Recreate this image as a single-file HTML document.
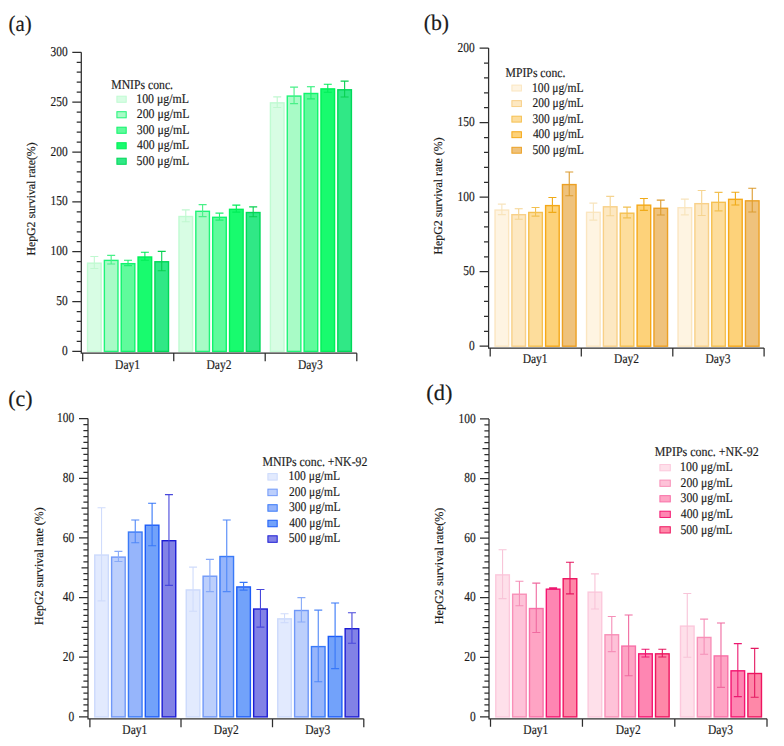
<!DOCTYPE html>
<html><head><meta charset="utf-8"><style>
html,body{margin:0;padding:0;background:#fff;}
svg{display:block;}
.t{font-family:"Liberation Serif", serif;fill:#1c1c1c;font-kerning:none;text-rendering:geometricPrecision;stroke:#1c1c1c;stroke-width:0.18px;}
</style></head><body>
<svg width="784" height="746" viewBox="0 0 784 746">
<rect width="784" height="746" fill="#fff"/>
<rect x="87.52" y="263.17" width="13.6" height="88.23" fill="#d8fde4" stroke="#c0fbd2" stroke-width="1.4"/>
<rect x="104.37" y="260.38" width="13.6" height="91.02" fill="#a8fbc6" stroke="#20f478" stroke-width="1.4"/>
<rect x="121.22" y="263.67" width="13.6" height="87.73" fill="#60fb9c" stroke="#10f46c" stroke-width="1.4"/>
<rect x="138.07" y="256.99" width="13.6" height="94.41" fill="#18fb6e" stroke="#00f058" stroke-width="1.4"/>
<rect x="154.92" y="261.77" width="13.6" height="89.63" fill="#30e886" stroke="#00d858" stroke-width="1.4"/>
<rect x="178.97" y="216.51" width="13.6" height="134.89" fill="#d8fde4" stroke="#c0fbd2" stroke-width="1.4"/>
<rect x="195.82" y="211.32" width="13.6" height="140.08" fill="#a8fbc6" stroke="#20f478" stroke-width="1.4"/>
<rect x="212.68" y="217.31" width="13.6" height="134.09" fill="#60fb9c" stroke="#10f46c" stroke-width="1.4"/>
<rect x="229.53" y="209.33" width="13.6" height="142.07" fill="#18fb6e" stroke="#00f058" stroke-width="1.4"/>
<rect x="246.38" y="212.52" width="13.6" height="138.88" fill="#30e886" stroke="#00d858" stroke-width="1.4"/>
<rect x="270.42" y="102.85" width="13.6" height="248.55" fill="#d8fde4" stroke="#c0fbd2" stroke-width="1.4"/>
<rect x="287.27" y="96.07" width="13.6" height="255.33" fill="#a8fbc6" stroke="#20f478" stroke-width="1.4"/>
<rect x="304.12" y="93.48" width="13.6" height="257.92" fill="#60fb9c" stroke="#10f46c" stroke-width="1.4"/>
<rect x="320.97" y="88.89" width="13.6" height="262.51" fill="#18fb6e" stroke="#00f058" stroke-width="1.4"/>
<rect x="337.82" y="89.79" width="13.6" height="261.61" fill="#30e886" stroke="#00d858" stroke-width="1.4"/>
<path d="M94.32 256.49V268.45M90.32 256.49H98.32M90.32 268.45H98.32" stroke="#c0f8d0" stroke-width="1.1" fill="none"/>
<path d="M111.17 255.39V263.96M107.17 255.39H115.17M107.17 263.96H115.17" stroke="#48f088" stroke-width="1.1" fill="none"/>
<path d="M128.02 260.27V265.66M124.02 260.27H132.02M124.02 265.66H132.02" stroke="#20f070" stroke-width="1.1" fill="none"/>
<path d="M144.88 252.3V260.27M140.88 252.3H148.88M140.88 260.27H148.88" stroke="#00ee58" stroke-width="1.1" fill="none"/>
<path d="M161.72 251.4V270.74M157.72 251.4H165.72M157.72 270.74H165.72" stroke="#08d050" stroke-width="1.1" fill="none"/>
<path d="M185.78 209.83V221.79M181.78 209.83H189.78M181.78 221.79H189.78" stroke="#c0f8d0" stroke-width="1.1" fill="none"/>
<path d="M202.62 204.64V216.61M198.62 204.64H206.62M198.62 216.61H206.62" stroke="#48f088" stroke-width="1.1" fill="none"/>
<path d="M219.48 213.12V220.1M215.48 213.12H223.48M215.48 220.1H223.48" stroke="#20f070" stroke-width="1.1" fill="none"/>
<path d="M236.33 205.14V212.12M232.33 205.14H240.33M232.33 212.12H240.33" stroke="#00ee58" stroke-width="1.1" fill="none"/>
<path d="M253.18 206.83V216.81M249.18 206.83H257.18M249.18 216.81H257.18" stroke="#08d050" stroke-width="1.1" fill="none"/>
<path d="M277.22 96.87V107.43M273.22 96.87H281.22M273.22 107.43H281.22" stroke="#c0f8d0" stroke-width="1.1" fill="none"/>
<path d="M294.07 87.1V103.65M290.07 87.1H298.07M290.07 103.65H298.07" stroke="#48f088" stroke-width="1.1" fill="none"/>
<path d="M310.92 86.7V98.86M306.92 86.7H314.92M306.92 98.86H314.92" stroke="#20f070" stroke-width="1.1" fill="none"/>
<path d="M327.77 84.2V92.18M323.77 84.2H331.77M323.77 92.18H331.77" stroke="#00ee58" stroke-width="1.1" fill="none"/>
<path d="M344.62 81.11V97.07M340.62 81.11H348.62M340.62 97.07H348.62" stroke="#08d050" stroke-width="1.1" fill="none"/>
<path d="M81.3 52.3V353.2H356.8M72.3 351.4H81.3M76.7 341.43H81.3M76.7 331.46H81.3M76.7 321.49H81.3M76.7 311.52H81.3M72.3 301.55H81.3M76.7 291.58H81.3M76.7 281.61H81.3M76.7 271.64H81.3M76.7 261.67H81.3M72.3 251.7H81.3M76.7 241.73H81.3M76.7 231.76H81.3M76.7 221.79H81.3M76.7 211.82H81.3M72.3 201.85H81.3M76.7 191.88H81.3M76.7 181.91H81.3M76.7 171.94H81.3M76.7 161.97H81.3M72.3 152H81.3M76.7 142.03H81.3M76.7 132.06H81.3M76.7 122.09H81.3M76.7 112.12H81.3M72.3 102.15H81.3M76.7 92.18H81.3M76.7 82.21H81.3M76.7 72.24H81.3M76.7 62.27H81.3M72.3 52.3H81.3M82.7 353.2V361.2M173.75 353.2V361.2M265.2 353.2V361.2M356.8 353.2V361.2" stroke="#2e2e2e" stroke-width="1.25" fill="none"/>
<text transform="translate(61.92 355) scale(0.84 1)" style="font-size:13.6px" class="t">0</text>
<text transform="translate(56.21 305.15) scale(0.84 1)" style="font-size:13.6px" class="t">50</text>
<text transform="translate(50.5 255.3) scale(0.84 1)" style="font-size:13.6px" class="t">100</text>
<text transform="translate(50.5 205.45) scale(0.84 1)" style="font-size:13.6px" class="t">150</text>
<text transform="translate(50.5 155.6) scale(0.84 1)" style="font-size:13.6px" class="t">200</text>
<text transform="translate(50.5 105.75) scale(0.84 1)" style="font-size:13.6px" class="t">250</text>
<text transform="translate(50.5 55.9) scale(0.84 1)" style="font-size:13.6px" class="t">300</text>
<text transform="translate(115.12 368.5) scale(0.86 1)" style="font-size:13.4px" class="t">Day1</text>
<text transform="translate(206.55 368.5) scale(0.86 1)" style="font-size:13.4px" class="t">Day2</text>
<text transform="translate(297.9 368.5) scale(0.86 1)" style="font-size:13.4px" class="t">Day3</text>
<text transform="translate(34.9 255.54) rotate(-90) scale(0.99 1)" style="font-size:11.9px" class="t">HepG2 survival rate(%)</text>
<text transform="translate(8.58 31.2) scale(0.94 1)" style="font-size:22.2px" class="t">(a)</text>
<text transform="translate(111.26 88.6) scale(0.88 1)" style="font-size:13.3px" class="t">MNIPs conc.</text>
<rect x="116.9" y="96.2" width="9.3" height="6.1" fill="#d8fde4" stroke="#c0fbd2"/>
<text transform="translate(136.25 102.6) scale(0.89 1)" style="font-size:13.3px" class="t">100 μg/mL</text>
<rect x="116.9" y="111.7" width="9.3" height="6.1" fill="#a8fbc6" stroke="#20f478"/>
<text transform="translate(136.78 118.1) scale(0.89 1)" style="font-size:13.3px" class="t">200 μg/mL</text>
<rect x="116.9" y="127.2" width="9.3" height="6.1" fill="#60fb9c" stroke="#10f46c"/>
<text transform="translate(136.74 133.6) scale(0.89 1)" style="font-size:13.3px" class="t">300 μg/mL</text>
<rect x="116.9" y="142.7" width="9.3" height="6.1" fill="#18fb6e" stroke="#00f058"/>
<text transform="translate(137.07 149.1) scale(0.88 1)" style="font-size:13.3px" class="t">400 μg/mL</text>
<rect x="116.9" y="158.2" width="9.3" height="6.1" fill="#30e886" stroke="#00d858"/>
<text transform="translate(136.61 164.6) scale(0.89 1)" style="font-size:13.3px" class="t">500 μg/mL</text>
<rect x="495.05" y="210.07" width="13.6" height="136.13" fill="#fef4e2" stroke="#fbe6c0" stroke-width="1.4"/>
<rect x="511.9" y="214.69" width="13.6" height="131.51" fill="#fde8c2" stroke="#f8d088" stroke-width="1.4"/>
<rect x="528.75" y="212.46" width="13.6" height="133.74" fill="#fddd9c" stroke="#f5c050" stroke-width="1.4"/>
<rect x="545.6" y="205.6" width="13.6" height="140.6" fill="#fdd27a" stroke="#f5a818" stroke-width="1.4"/>
<rect x="562.45" y="184.58" width="13.6" height="161.62" fill="#efc27c" stroke="#eca024" stroke-width="1.4"/>
<rect x="586.55" y="212.31" width="13.6" height="133.89" fill="#fef4e2" stroke="#fbe6c0" stroke-width="1.4"/>
<rect x="603.4" y="206.79" width="13.6" height="139.41" fill="#fde8c2" stroke="#f8d088" stroke-width="1.4"/>
<rect x="620.25" y="213.2" width="13.6" height="133" fill="#fddd9c" stroke="#f5c050" stroke-width="1.4"/>
<rect x="637.1" y="205.15" width="13.6" height="141.05" fill="#fdd27a" stroke="#f5a818" stroke-width="1.4"/>
<rect x="653.95" y="208.28" width="13.6" height="137.92" fill="#efc27c" stroke="#eca024" stroke-width="1.4"/>
<rect x="678.05" y="207.69" width="13.6" height="138.51" fill="#fef4e2" stroke="#fbe6c0" stroke-width="1.4"/>
<rect x="694.9" y="203.66" width="13.6" height="142.54" fill="#fde8c2" stroke="#f8d088" stroke-width="1.4"/>
<rect x="711.75" y="202.32" width="13.6" height="143.88" fill="#fddd9c" stroke="#f5c050" stroke-width="1.4"/>
<rect x="728.6" y="199.34" width="13.6" height="146.86" fill="#fdd27a" stroke="#f5a818" stroke-width="1.4"/>
<rect x="745.45" y="200.83" width="13.6" height="145.37" fill="#efc27c" stroke="#eca024" stroke-width="1.4"/>
<path d="M501.85 204.16V214.59M497.85 204.16H505.85M497.85 214.59H505.85" stroke="#f8e4bc" stroke-width="1.1" fill="none"/>
<path d="M518.7 208.78V219.21M514.7 208.78H522.7M514.7 219.21H522.7" stroke="#f5d490" stroke-width="1.1" fill="none"/>
<path d="M535.55 207.43V216.08M531.55 207.43H539.55M531.55 216.08H539.55" stroke="#f2c050" stroke-width="1.1" fill="none"/>
<path d="M552.4 197.45V212.35M548.4 197.45H556.4M548.4 212.35H556.4" stroke="#f0aa18" stroke-width="1.1" fill="none"/>
<path d="M569.25 171.96V195.81M565.25 171.96H573.25M565.25 195.81H573.25" stroke="#dc9c30" stroke-width="1.1" fill="none"/>
<path d="M593.35 203.11V220.1M589.35 203.11H597.35M589.35 220.1H597.35" stroke="#f8e4bc" stroke-width="1.1" fill="none"/>
<path d="M610.2 196.4V215.78M606.2 196.4H614.2M606.2 215.78H614.2" stroke="#f5d490" stroke-width="1.1" fill="none"/>
<path d="M627.05 207.14V217.87M623.05 207.14H631.05M623.05 217.87H631.05" stroke="#f2c050" stroke-width="1.1" fill="none"/>
<path d="M643.9 198.49V210.42M639.9 198.49H647.9M639.9 210.42H647.9" stroke="#f0aa18" stroke-width="1.1" fill="none"/>
<path d="M660.75 200.13V215.04M656.75 200.13H664.75M656.75 215.04H664.75" stroke="#dc9c30" stroke-width="1.1" fill="none"/>
<path d="M684.85 199.09V214.89M680.85 199.09H688.85M680.85 214.89H688.85" stroke="#f8e4bc" stroke-width="1.1" fill="none"/>
<path d="M701.7 190.44V215.48M697.7 190.44H705.7M697.7 215.48H705.7" stroke="#f5d490" stroke-width="1.1" fill="none"/>
<path d="M718.55 192.38V210.86M714.55 192.38H722.55M714.55 210.86H722.55" stroke="#f2c050" stroke-width="1.1" fill="none"/>
<path d="M735.4 192.23V205.05M731.4 192.23H739.4M731.4 205.05H739.4" stroke="#f0aa18" stroke-width="1.1" fill="none"/>
<path d="M752.25 188.21V212.06M748.25 188.21H756.25M748.25 212.06H756.25" stroke="#dc9c30" stroke-width="1.1" fill="none"/>
<path d="M488.6 48.1V348.1H764.1M479.6 346.2H488.6M484 331.3H488.6M484 316.39H488.6M484 301.49H488.6M484 286.58H488.6M479.6 271.68H488.6M484 256.77H488.6M484 241.87H488.6M484 226.96H488.6M484 212.06H488.6M479.6 197.15H488.6M484 182.25H488.6M484 167.34H488.6M484 152.44H488.6M484 137.53H488.6M479.6 122.62H488.6M484 107.72H488.6M484 92.81H488.6M484 77.91H488.6M484 63H488.6M479.6 48.1H488.6M490.2 348.1V356.6M581.3 348.1V356.6M672.8 348.1V356.6M764.1 348.1V356.6" stroke="#2e2e2e" stroke-width="1.25" fill="none"/>
<text transform="translate(468.92 349.8) scale(0.84 1)" style="font-size:13.6px" class="t">0</text>
<text transform="translate(463.21 275.28) scale(0.84 1)" style="font-size:13.6px" class="t">50</text>
<text transform="translate(457.5 200.75) scale(0.84 1)" style="font-size:13.6px" class="t">100</text>
<text transform="translate(457.5 126.22) scale(0.84 1)" style="font-size:13.6px" class="t">150</text>
<text transform="translate(457.5 51.7) scale(0.84 1)" style="font-size:13.6px" class="t">200</text>
<text transform="translate(522.65 363.4) scale(0.86 1)" style="font-size:13.4px" class="t">Day1</text>
<text transform="translate(614.12 363.4) scale(0.86 1)" style="font-size:13.4px" class="t">Day2</text>
<text transform="translate(705.53 363.4) scale(0.86 1)" style="font-size:13.4px" class="t">Day3</text>
<text transform="translate(442.3 254.54) rotate(-90) scale(1 1)" style="font-size:11.9px" class="t">HepG2 survival rate (%)</text>
<text transform="translate(423.74 30) scale(0.98 1)" style="font-size:22.2px" class="t">(b)</text>
<text transform="translate(505.56 77.1) scale(0.88 1)" style="font-size:13.3px" class="t">MPIPs conc.</text>
<rect x="511.9" y="85.1" width="9.5" height="5.9" fill="#fef4e2" stroke="#fbe6c0"/>
<text transform="translate(532.08 91.5) scale(0.87 1)" style="font-size:13.3px" class="t">100 μg/mL</text>
<rect x="511.9" y="100.65" width="9.5" height="5.9" fill="#fde8c2" stroke="#f8d088"/>
<text transform="translate(532.6 107.05) scale(0.86 1)" style="font-size:13.3px" class="t">200 μg/mL</text>
<rect x="511.9" y="116.2" width="9.5" height="5.9" fill="#fddd9c" stroke="#f5c050"/>
<text transform="translate(532.55 122.6) scale(0.86 1)" style="font-size:13.3px" class="t">300 μg/mL</text>
<rect x="511.9" y="131.75" width="9.5" height="5.9" fill="#fdd27a" stroke="#f5a818"/>
<text transform="translate(532.88 138.15) scale(0.86 1)" style="font-size:13.3px" class="t">400 μg/mL</text>
<rect x="511.9" y="147.3" width="9.5" height="5.9" fill="#efc27c" stroke="#eca024"/>
<text transform="translate(532.43 153.7) scale(0.87 1)" style="font-size:13.3px" class="t">500 μg/mL</text>
<rect x="94.75" y="555.03" width="13.6" height="161.87" fill="#e2eafe" stroke="#ccdafc" stroke-width="1.4"/>
<rect x="111.6" y="557.11" width="13.6" height="159.79" fill="#bccffc" stroke="#7098f8" stroke-width="1.4"/>
<rect x="128.45" y="532.06" width="13.6" height="184.84" fill="#96b5fb" stroke="#3a7af8" stroke-width="1.4"/>
<rect x="145.3" y="525.2" width="13.6" height="191.7" fill="#72a2fa" stroke="#1c5cf8" stroke-width="1.4"/>
<rect x="162.15" y="540.71" width="13.6" height="176.19" fill="#8282e6" stroke="#1c1cd4" stroke-width="1.4"/>
<rect x="186.25" y="589.93" width="13.6" height="126.97" fill="#e2eafe" stroke="#ccdafc" stroke-width="1.4"/>
<rect x="203.1" y="576.21" width="13.6" height="140.69" fill="#bccffc" stroke="#7098f8" stroke-width="1.4"/>
<rect x="219.95" y="556.52" width="13.6" height="160.38" fill="#96b5fb" stroke="#3a7af8" stroke-width="1.4"/>
<rect x="236.8" y="586.94" width="13.6" height="129.96" fill="#72a2fa" stroke="#1c5cf8" stroke-width="1.4"/>
<rect x="253.65" y="609.02" width="13.6" height="107.88" fill="#8282e6" stroke="#1c1cd4" stroke-width="1.4"/>
<rect x="277.75" y="618.86" width="13.6" height="98.04" fill="#e2eafe" stroke="#ccdafc" stroke-width="1.4"/>
<rect x="294.6" y="610.51" width="13.6" height="106.39" fill="#bccffc" stroke="#7098f8" stroke-width="1.4"/>
<rect x="311.45" y="646.6" width="13.6" height="70.3" fill="#96b5fb" stroke="#3a7af8" stroke-width="1.4"/>
<rect x="328.3" y="636.46" width="13.6" height="80.44" fill="#72a2fa" stroke="#1c5cf8" stroke-width="1.4"/>
<rect x="345.15" y="628.71" width="13.6" height="88.19" fill="#8282e6" stroke="#1c1cd4" stroke-width="1.4"/>
<path d="M101.55 507.79V600.86M97.55 507.79H105.55M97.55 600.86H105.55" stroke="#d0dcfc" stroke-width="1.1" fill="none"/>
<path d="M118.4 551.34V561.49M114.4 551.34H122.4M114.4 561.49H122.4" stroke="#88aaf8" stroke-width="1.1" fill="none"/>
<path d="M135.25 520.02V542.69M131.25 520.02H139.25M131.25 542.69H139.25" stroke="#5088f8" stroke-width="1.1" fill="none"/>
<path d="M152.1 503.32V545.68M148.1 503.32H156.1M148.1 545.68H156.1" stroke="#3878f8" stroke-width="1.1" fill="none"/>
<path d="M168.95 494.67V585.35M164.95 494.67H172.95M164.95 585.35H172.95" stroke="#4848dc" stroke-width="1.1" fill="none"/>
<path d="M193.05 567.15V611.3M189.05 567.15H197.05M189.05 611.3H197.05" stroke="#d0dcfc" stroke-width="1.1" fill="none"/>
<path d="M209.9 559.4V591.61M205.9 559.4H213.9M205.9 591.61H213.9" stroke="#88aaf8" stroke-width="1.1" fill="none"/>
<path d="M226.75 520.02V591.61M222.75 520.02H230.75M222.75 591.61H230.75" stroke="#5088f8" stroke-width="1.1" fill="none"/>
<path d="M243.6 582.37V590.12M239.6 582.37H247.6M239.6 590.12H247.6" stroke="#3878f8" stroke-width="1.1" fill="none"/>
<path d="M260.45 589.53V627.11M256.45 589.53H264.45M256.45 627.11H264.45" stroke="#4848dc" stroke-width="1.1" fill="none"/>
<path d="M284.55 613.69V622.64M280.55 613.69H288.55M280.55 622.64H288.55" stroke="#d0dcfc" stroke-width="1.1" fill="none"/>
<path d="M301.4 597.58V622.04M297.4 597.58H305.4M297.4 622.04H305.4" stroke="#88aaf8" stroke-width="1.1" fill="none"/>
<path d="M318.25 610.11V681.7M314.25 610.11H322.25M314.25 681.7H322.25" stroke="#5088f8" stroke-width="1.1" fill="none"/>
<path d="M335.1 602.95V668.58M331.1 602.95H339.1M331.1 668.58H339.1" stroke="#3878f8" stroke-width="1.1" fill="none"/>
<path d="M351.95 612.79V643.22M347.95 612.79H355.95M347.95 643.22H355.95" stroke="#4848dc" stroke-width="1.1" fill="none"/>
<path d="M88 418.6V718.8H363.8M79 716.9H88M83.4 710.93H88M83.4 704.97H88M83.4 699H88M83.4 693.04H88M81.5 687.07H88M83.4 681.1H88M83.4 675.14H88M83.4 669.17H88M83.4 663.21H88M79 657.24H88M83.4 651.27H88M83.4 645.31H88M83.4 639.34H88M83.4 633.38H88M81.5 627.41H88M83.4 621.44H88M83.4 615.48H88M83.4 609.51H88M83.4 603.55H88M79 597.58H88M83.4 591.61H88M83.4 585.65H88M83.4 579.68H88M83.4 573.72H88M81.5 567.75H88M83.4 561.78H88M83.4 555.82H88M83.4 549.85H88M83.4 543.89H88M79 537.92H88M83.4 531.95H88M83.4 525.99H88M83.4 520.02H88M83.4 514.06H88M81.5 508.09H88M83.4 502.12H88M83.4 496.16H88M83.4 490.19H88M83.4 484.23H88M79 478.26H88M83.4 472.29H88M83.4 466.33H88M83.4 460.36H88M83.4 454.4H88M81.5 448.43H88M83.4 442.46H88M83.4 436.5H88M83.4 430.53H88M83.4 424.57H88M79 418.6H88M89.9 718.8V727.3M181 718.8V727.3M272.5 718.8V727.3M363.8 718.8V727.3" stroke="#2e2e2e" stroke-width="1.25" fill="none"/>
<text transform="translate(68.52 720.5) scale(0.84 1)" style="font-size:13.6px" class="t">0</text>
<text transform="translate(62.81 660.84) scale(0.84 1)" style="font-size:13.6px" class="t">20</text>
<text transform="translate(62.81 601.18) scale(0.84 1)" style="font-size:13.6px" class="t">40</text>
<text transform="translate(62.81 541.52) scale(0.84 1)" style="font-size:13.6px" class="t">60</text>
<text transform="translate(62.81 481.86) scale(0.84 1)" style="font-size:13.6px" class="t">80</text>
<text transform="translate(57.1 422.2) scale(0.84 1)" style="font-size:13.6px" class="t">100</text>
<text transform="translate(122.35 734.1) scale(0.86 1)" style="font-size:13.4px" class="t">Day1</text>
<text transform="translate(213.82 734.1) scale(0.86 1)" style="font-size:13.4px" class="t">Day2</text>
<text transform="translate(305.23 734.1) scale(0.86 1)" style="font-size:13.4px" class="t">Day3</text>
<text transform="translate(42.6 624.94) rotate(-90) scale(0.97 1)" style="font-size:12.3px" class="t">HepG2 survival rate (%)</text>
<text transform="translate(8.23 406.2) scale(0.99 1)" style="font-size:22.2px" class="t">(c)</text>
<text transform="translate(262.46 466) scale(0.89 1)" style="font-size:13.3px" class="t">MNIPs conc. +NK-92</text>
<rect x="267.9" y="473.6" width="9.3" height="6.5" fill="#e2eafe" stroke="#ccdafc"/>
<text transform="translate(288.48 480.2) scale(0.87 1)" style="font-size:13.3px" class="t">100 μg/mL</text>
<rect x="267.9" y="489.15" width="9.3" height="6.5" fill="#bccffc" stroke="#7098f8"/>
<text transform="translate(288.99 495.75) scale(0.86 1)" style="font-size:13.3px" class="t">200 μg/mL</text>
<rect x="267.9" y="504.7" width="9.3" height="6.5" fill="#96b5fb" stroke="#3a7af8"/>
<text transform="translate(288.95 511.3) scale(0.87 1)" style="font-size:13.3px" class="t">300 μg/mL</text>
<rect x="267.9" y="520.25" width="9.3" height="6.5" fill="#72a2fa" stroke="#1c5cf8"/>
<text transform="translate(289.28 526.85) scale(0.86 1)" style="font-size:13.3px" class="t">400 μg/mL</text>
<rect x="267.9" y="535.8" width="9.3" height="6.5" fill="#8282e6" stroke="#1c1cd4"/>
<text transform="translate(288.83 542.4) scale(0.87 1)" style="font-size:13.3px" class="t">500 μg/mL</text>
<rect x="495.78" y="574.86" width="13.6" height="142.04" fill="#fee0ea" stroke="#fcc8dc" stroke-width="1.4"/>
<rect x="512.63" y="594.23" width="13.6" height="122.67" fill="#fec2d8" stroke="#f890b8" stroke-width="1.4"/>
<rect x="529.48" y="608.53" width="13.6" height="108.37" fill="#fea4c4" stroke="#f870a8" stroke-width="1.4"/>
<rect x="546.33" y="589.16" width="13.6" height="127.74" fill="#fe86b2" stroke="#f41470" stroke-width="1.4"/>
<rect x="563.18" y="578.73" width="13.6" height="138.17" fill="#fe88a8" stroke="#ee1460" stroke-width="1.4"/>
<rect x="588.13" y="592.14" width="13.6" height="124.76" fill="#fee0ea" stroke="#fcc8dc" stroke-width="1.4"/>
<rect x="604.98" y="634.76" width="13.6" height="82.14" fill="#fec2d8" stroke="#f890b8" stroke-width="1.4"/>
<rect x="621.83" y="646.08" width="13.6" height="70.82" fill="#fea4c4" stroke="#f870a8" stroke-width="1.4"/>
<rect x="638.68" y="653.83" width="13.6" height="63.07" fill="#fe86b2" stroke="#f41470" stroke-width="1.4"/>
<rect x="655.53" y="653.83" width="13.6" height="63.07" fill="#fe88a8" stroke="#ee1460" stroke-width="1.4"/>
<rect x="680.48" y="626.11" width="13.6" height="90.79" fill="#fee0ea" stroke="#fcc8dc" stroke-width="1.4"/>
<rect x="697.33" y="637.44" width="13.6" height="79.46" fill="#fec2d8" stroke="#f890b8" stroke-width="1.4"/>
<rect x="714.18" y="655.91" width="13.6" height="60.99" fill="#fea4c4" stroke="#f870a8" stroke-width="1.4"/>
<rect x="731.02" y="670.81" width="13.6" height="46.09" fill="#fe86b2" stroke="#f41470" stroke-width="1.4"/>
<rect x="747.88" y="673.5" width="13.6" height="43.4" fill="#fe88a8" stroke="#ee1460" stroke-width="1.4"/>
<path d="M502.58 549.72V598.59M498.58 549.72H506.58M498.58 598.59H506.58" stroke="#f8c4d8" stroke-width="1.1" fill="none"/>
<path d="M519.43 581.31V605.75M515.43 581.31H523.43M515.43 605.75H523.43" stroke="#f590b8" stroke-width="1.1" fill="none"/>
<path d="M536.28 583.1V632.57M532.28 583.1H540.28M532.28 632.57H540.28" stroke="#f06aa0" stroke-width="1.1" fill="none"/>
<path d="M553.12 587.87V589.06M549.12 587.87H557.12M549.12 589.06H557.12" stroke="#ec1870" stroke-width="1.1" fill="none"/>
<path d="M569.98 562.24V593.83M565.98 562.24H573.98M565.98 593.83H573.98" stroke="#e41860" stroke-width="1.1" fill="none"/>
<path d="M594.93 573.86V609.02M590.93 573.86H598.93M590.93 609.02H598.93" stroke="#f8c4d8" stroke-width="1.1" fill="none"/>
<path d="M611.78 616.47V651.64M607.78 616.47H615.78M607.78 651.64H615.78" stroke="#f590b8" stroke-width="1.1" fill="none"/>
<path d="M628.63 614.98V675.78M624.63 614.98H632.63M624.63 675.78H632.63" stroke="#f06aa0" stroke-width="1.1" fill="none"/>
<path d="M645.48 649.25V657M641.48 649.25H649.48M641.48 657H649.48" stroke="#ec1870" stroke-width="1.1" fill="none"/>
<path d="M662.33 649.25V657M658.33 649.25H666.33M658.33 657H666.33" stroke="#e41860" stroke-width="1.1" fill="none"/>
<path d="M687.27 593.53V657.3M683.27 593.53H691.27M683.27 657.3H691.27" stroke="#f8c4d8" stroke-width="1.1" fill="none"/>
<path d="M704.12 619.16V654.32M700.12 619.16H708.12M700.12 654.32H708.12" stroke="#f590b8" stroke-width="1.1" fill="none"/>
<path d="M720.98 623.03V687.4M716.98 623.03H724.98M716.98 687.4H724.98" stroke="#f06aa0" stroke-width="1.1" fill="none"/>
<path d="M737.82 643.59V696.64M733.82 643.59H741.82M733.82 696.64H741.82" stroke="#ec1870" stroke-width="1.1" fill="none"/>
<path d="M754.67 648.36V697.23M750.67 648.36H758.67M750.67 697.23H758.67" stroke="#e41860" stroke-width="1.1" fill="none"/>
<path d="M489 418.9V718.8H767M480 716.9H489M484.4 710.94H489M484.4 704.98H489M484.4 699.02H489M484.4 693.06H489M482.5 687.1H489M484.4 681.14H489M484.4 675.18H489M484.4 669.22H489M484.4 663.26H489M480 657.3H489M484.4 651.34H489M484.4 645.38H489M484.4 639.42H489M484.4 633.46H489M482.5 627.5H489M484.4 621.54H489M484.4 615.58H489M484.4 609.62H489M484.4 603.66H489M480 597.7H489M484.4 591.74H489M484.4 585.78H489M484.4 579.82H489M484.4 573.86H489M482.5 567.9H489M484.4 561.94H489M484.4 555.98H489M484.4 550.02H489M484.4 544.06H489M480 538.1H489M484.4 532.14H489M484.4 526.18H489M484.4 520.22H489M484.4 514.26H489M482.5 508.3H489M484.4 502.34H489M484.4 496.38H489M484.4 490.42H489M484.4 484.46H489M480 478.5H489M484.4 472.54H489M484.4 466.58H489M484.4 460.62H489M484.4 454.66H489M482.5 448.7H489M484.4 442.74H489M484.4 436.78H489M484.4 430.82H489M484.4 424.86H489M480 418.9H489M490.5 718.8V726.8M582.45 718.8V726.8M674.8 718.8V726.8M767 718.8V726.8" stroke="#2e2e2e" stroke-width="1.25" fill="none"/>
<text transform="translate(470.02 720.5) scale(0.84 1)" style="font-size:13.6px" class="t">0</text>
<text transform="translate(464.31 660.9) scale(0.84 1)" style="font-size:13.6px" class="t">20</text>
<text transform="translate(464.31 601.3) scale(0.84 1)" style="font-size:13.6px" class="t">40</text>
<text transform="translate(464.31 541.7) scale(0.84 1)" style="font-size:13.6px" class="t">60</text>
<text transform="translate(464.31 482.1) scale(0.84 1)" style="font-size:13.6px" class="t">80</text>
<text transform="translate(458.6 422.5) scale(0.84 1)" style="font-size:13.6px" class="t">100</text>
<text transform="translate(523.37 734.1) scale(0.86 1)" style="font-size:13.4px" class="t">Day1</text>
<text transform="translate(615.7 734.1) scale(0.86 1)" style="font-size:13.4px" class="t">Day2</text>
<text transform="translate(707.95 734.1) scale(0.86 1)" style="font-size:13.4px" class="t">Day3</text>
<text transform="translate(442.9 624.15) rotate(-90) scale(1.02 1)" style="font-size:11.9px" class="t">HepG2 survival rate(%)</text>
<text transform="translate(426.21 400.2) scale(1.01 1)" style="font-size:22.2px" class="t">(d)</text>
<text transform="translate(654.66 456.4) scale(0.9 1)" style="font-size:13.3px" class="t">MPIPs conc. +NK-92</text>
<rect x="659.9" y="464.55" width="10.4" height="6.25" fill="#fee0ea" stroke="#fcc8dc"/>
<text transform="translate(680.06 471.3) scale(0.89 1)" style="font-size:13.3px" class="t">100 μg/mL</text>
<rect x="659.9" y="480.1" width="10.4" height="6.25" fill="#fec2d8" stroke="#f890b8"/>
<text transform="translate(680.58 486.85) scale(0.88 1)" style="font-size:13.3px" class="t">200 μg/mL</text>
<rect x="659.9" y="495.65" width="10.4" height="6.25" fill="#fea4c4" stroke="#f870a8"/>
<text transform="translate(680.54 502.4) scale(0.88 1)" style="font-size:13.3px" class="t">300 μg/mL</text>
<rect x="659.9" y="511.2" width="10.4" height="6.25" fill="#fe86b2" stroke="#f41470"/>
<text transform="translate(680.87 517.95) scale(0.88 1)" style="font-size:13.3px" class="t">400 μg/mL</text>
<rect x="659.9" y="526.75" width="10.4" height="6.25" fill="#fe88a8" stroke="#ee1460"/>
<text transform="translate(680.42 533.5) scale(0.88 1)" style="font-size:13.3px" class="t">500 μg/mL</text>
</svg>
</body></html>
